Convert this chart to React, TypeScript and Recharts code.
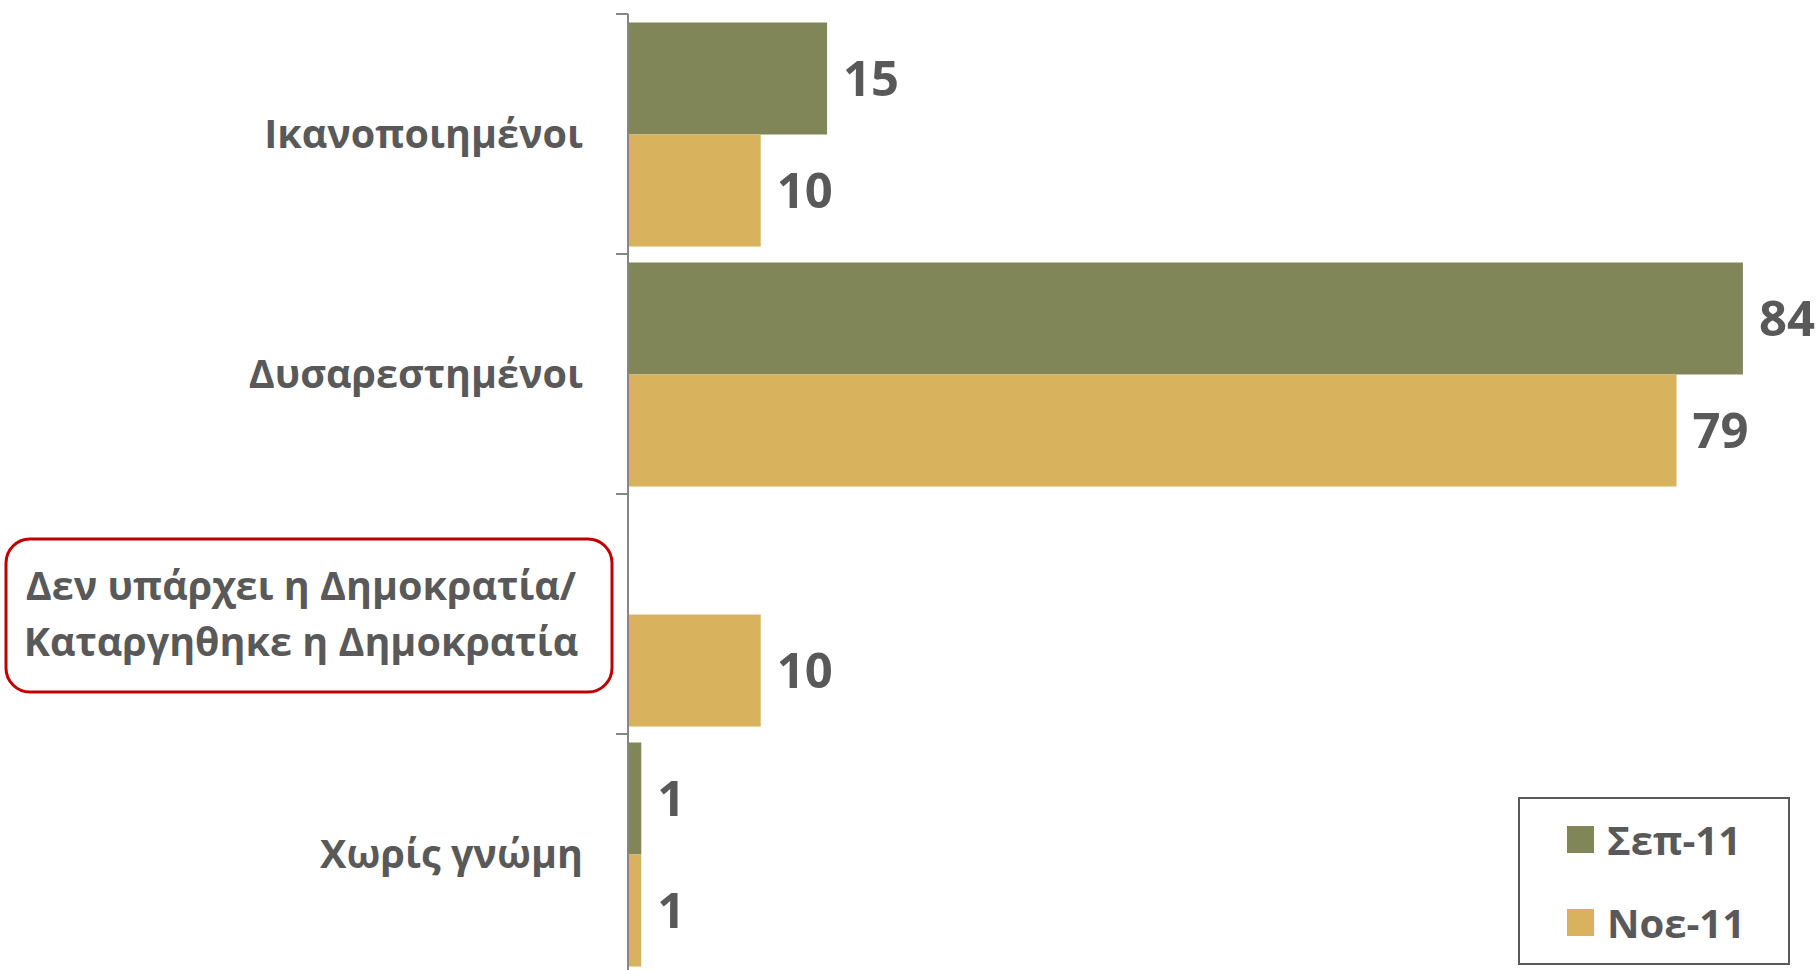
import { Bar, BarChart, LabelList, Legend, XAxis, YAxis } from 'recharts';

const categories = [
	'Ικανοποιημένοι',
	'Δυσαρεστημένοι',
	'Δεν υπάρχει η Δημοκρατία/\nΚαταργηθηκε η Δημοκρατία',
	'Χωρίς γνώμη'
];
const sep11 = [15, 84, null, 1];
const nov11 = [10, 79, 10, 1];
const seriesNames = ['Σεπ-11', 'Νοε-11'];
const highlighted = categories[2];

const data = categories.map((name, i) => ({
	name,
	sep: sep11[i],
	nov: nov11[i]
}));

const FONT = '"Open Sans", "Noto Sans", sans-serif';
const TEXT = '#595959';
const GREEN = '#818659';
const GOLD = '#D8B25C';
const AXIS = '#868686';
const TICK_GAP = 45;

function CategoryTick(props: any) {
	const { x, y, payload } = props;
	const value = String(payload.value);
	const half = payload.offset ?? 120;
	const axisX = x + TICK_GAP;
	const lines = value.split('\n');
	const isLast = value === categories[categories.length - 1];
	return (
		<g>
			<line x1={axisX - 12} x2={axisX} y1={y - half} y2={y - half} stroke={AXIS} strokeWidth={2} />
			{isLast && (
				<line x1={axisX - 12} x2={axisX} y1={y + half} y2={y + half} stroke={AXIS} strokeWidth={2} />
			)}
			{value === highlighted && (
				<rect
					x={x - 577}
					y={y - 75}
					width={606}
					height={153}
					rx={24}
					fill="none"
					stroke="#C00000"
					strokeWidth={3}
				/>
			)}
			{lines.length > 1 ? (
				<text fontFamily={FONT} fontSize={39.5} fontWeight={700} fill={TEXT} textAnchor="middle">
					{lines.map((line, i) => (
						<tspan key={i} x={x - 282} y={y + (i - (lines.length - 1) / 2) * 56} dy="0.35em">
							{line}
						</tspan>
					))}
				</text>
			) : (
				<text x={x} y={y} dy="0.35em" fontFamily={FONT} fontSize={39.5} fontWeight={700} fill={TEXT} textAnchor="end">
					{value}
				</text>
			)}
		</g>
	);
}

function LegendBox(props: any) {
	const payload = [...(props.payload ?? [])].sort(
		(a: any, b: any) => seriesNames.indexOf(a.value) - seriesNames.indexOf(b.value)
	);
	return (
		<div
			style={{
				position: 'relative',
				width: 272,
				height: 168,
				border: `2px solid ${TEXT}`,
				boxSizing: 'border-box',
				background: '#fff'
			}}
		>
			{payload.map((entry: any, i: number) => (
				<div
					key={entry.value}
					style={{
						position: 'absolute',
						left: 47,
						top: 27 + i * 83,
						height: 27,
						display: 'flex',
						alignItems: 'center',
						whiteSpace: 'nowrap'
					}}
				>
					<span style={{ width: 27, height: 27, background: entry.color, display: 'inline-block' }} />
					<span
						style={{
							marginLeft: 13,
							fontFamily: FONT,
							fontSize: 40,
							fontWeight: 700,
							color: TEXT,
							lineHeight: '27px'
						}}
					>
						{entry.value}
					</span>
				</div>
			))}
		</div>
	);
}

export default function App() {
	return (
		<div
			style={{
				position: 'fixed',
				top: 0,
				left: 0,
				width: 1820,
				height: 970,
				overflow: 'hidden',
				background: '#fff'
			}}
		>
			<BarChart
				width={1820}
				height={984}
				data={data}
				layout="vertical"
				margin={{ top: 14, right: 24, bottom: 10, left: 0 }}
				barCategoryGap="3.5%"
				barGap={0}
			>
				<XAxis type="number" domain={[0, 88]} hide />
				<YAxis
					type="category"
					dataKey="name"
					width={628}
					tickLine={false}
					tickSize={0}
					tickMargin={TICK_GAP}
					axisLine={{ stroke: AXIS, strokeWidth: 2 }}
					tick={<CategoryTick />}
					interval={0}
				/>
				<Legend
					layout="vertical"
					align="center"
					verticalAlign="middle"
					content={<LegendBox />}
					wrapperStyle={{ left: 1518, top: 797, width: 272, height: 168 }}
				/>
				<Bar dataKey="sep" name={seriesNames[0]} fill={GREEN} isAnimationActive={false}>
					<LabelList dataKey="sep" position="right" offset={16} fontFamily={FONT} fontSize={49} fontWeight={700} fill={TEXT} />
				</Bar>
				<Bar dataKey="nov" name={seriesNames[1]} fill={GOLD} isAnimationActive={false}>
					<LabelList dataKey="nov" position="right" offset={16} fontFamily={FONT} fontSize={49} fontWeight={700} fill={TEXT} />
				</Bar>
			</BarChart>
		</div>
	);
}
